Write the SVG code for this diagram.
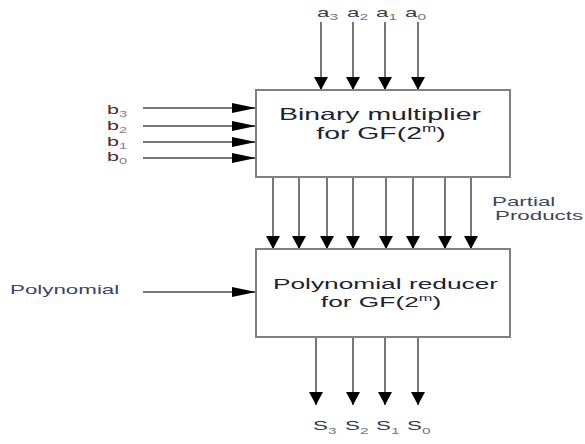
<svg xmlns="http://www.w3.org/2000/svg" width="585" height="444" viewBox="0 0 585 444">
<style>
text{font-family:"Liberation Sans",Arial,sans-serif;}
.box{fill:#fff;stroke:#808080;stroke-width:2;}
.title{fill:#1c2333;}
.wire{stroke:#4a4a4a;stroke-width:1.5;fill:none;}
.down{marker-end:url(#ahDown);}
.right{marker-end:url(#ahRight);}
.lbl{font-size:13px;fill:#3a3a44;}
.sub{font-size:9px;fill:#777;}
.blab{font-size:12.5px;fill:#5a2434;}
.bsub{font-size:8.5px;fill:#8a7d9a;}
.note{font-size:13px;fill:#3b4566;}
</style>
<defs>
<marker id="ahDown" markerUnits="userSpaceOnUse" viewBox="0 -7 13 14" markerWidth="13" markerHeight="14" refX="13" refY="0" orient="auto">
<path d="M0,-7 L13,0 L0,7 z" fill="#000"/>
</marker>
<marker id="ahRight" markerUnits="userSpaceOnUse" viewBox="0 -5 24 10" markerWidth="24" markerHeight="10" refX="24" refY="0" orient="auto">
<path d="M0,-5 L24,0 L0,5 z" fill="#000"/>
</marker>
</defs>

<g id="connectors">
<line class="wire down" x1="321" y1="22" x2="321" y2="90"/>
<line class="wire down" x1="353" y1="22" x2="353" y2="90"/>
<line class="wire down" x1="385" y1="22" x2="385" y2="90"/>
<line class="wire down" x1="418" y1="22" x2="418" y2="90"/>
<line class="wire right" x1="143" y1="108" x2="256" y2="108"/>
<line class="wire right" x1="143" y1="126" x2="256" y2="126"/>
<line class="wire right" x1="143" y1="142" x2="256" y2="142"/>
<line class="wire right" x1="143" y1="158" x2="256" y2="158"/>
<line class="wire down" x1="273" y1="177" x2="273" y2="249"/>
<line class="wire down" x1="299" y1="177" x2="299" y2="249"/>
<line class="wire down" x1="327" y1="177" x2="327" y2="249"/>
<line class="wire down" x1="353" y1="177" x2="353" y2="249"/>
<line class="wire down" x1="386" y1="177" x2="386" y2="249"/>
<line class="wire down" x1="413" y1="177" x2="413" y2="249"/>
<line class="wire down" x1="445" y1="177" x2="445" y2="249"/>
<line class="wire down" x1="471" y1="177" x2="471" y2="249"/>
<line class="wire right" x1="143" y1="292" x2="256" y2="292"/>
<line class="wire down" x1="316" y1="337" x2="316" y2="405"/>
<line class="wire down" x1="353" y1="337" x2="353" y2="405"/>
<line class="wire down" x1="385" y1="337" x2="385" y2="405"/>
<line class="wire down" x1="418" y1="337" x2="418" y2="405"/>
</g>

<g id="multiplier">
<rect class="box" x="256" y="90" width="254" height="87"/>
<text class="title" font-size="16.5" text-anchor="middle" transform="translate(380,120) scale(1.72,1)">Binary multiplier</text>
<text class="title" font-size="16.5" text-anchor="middle" transform="translate(381,138.5) scale(1.72,1)">for GF(2<tspan font-size="10" dy="-7">m</tspan><tspan dy="7">)</tspan></text>
</g>

<g id="reducer">
<rect class="box" x="256" y="249" width="254" height="88"/>
<text class="title" font-size="15.3" text-anchor="middle" transform="translate(385.5,289) scale(1.72,1)">Polynomial reducer</text>
<text class="title" font-size="15.3" text-anchor="middle" transform="translate(381,307) scale(1.72,1)">for GF(2<tspan font-size="9.5" dy="-6.5">m</tspan><tspan dy="6.5">)</tspan></text>
</g>

<g id="inputs-a">
<text class="lbl" transform="translate(317,17) scale(1.72,1)">a<tspan class="sub" dy="3">3</tspan></text>
<text class="lbl" transform="translate(347,17) scale(1.72,1)">a<tspan class="sub" dy="3">2</tspan></text>
<text class="lbl" transform="translate(376,17) scale(1.72,1)">a<tspan class="sub" dy="3">1</tspan></text>
<text class="lbl" transform="translate(405,17) scale(1.72,1)">a<tspan class="sub" dy="3">0</tspan></text>
</g>

<g id="inputs-b">
<text class="blab" transform="translate(107,114) scale(1.72,1)">b<tspan class="bsub" dy="3">3</tspan></text>
<text class="blab" transform="translate(107,130) scale(1.72,1)">b<tspan class="bsub" dy="3">2</tspan></text>
<text class="blab" transform="translate(107,146) scale(1.72,1)">b<tspan class="bsub" dy="3">1</tspan></text>
<text class="blab" transform="translate(107,161) scale(1.72,1)">b<tspan class="bsub" dy="3">0</tspan></text>
</g>

<g id="partial-products-label">
<text class="note" transform="translate(492,206) scale(1.72,1)">Partial</text>
<text class="note" transform="translate(495,220) scale(1.72,1)">Products</text>
</g>

<g id="polynomial-label">
<text class="note" transform="translate(10,294) scale(1.72,1)">Polynomial</text>
</g>

<g id="outputs-s">
<text class="lbl" transform="translate(313,430) scale(1.72,1)">S<tspan class="sub" dy="4" font-size="10">3</tspan></text>
<text class="lbl" transform="translate(345,430) scale(1.72,1)">S<tspan class="sub" dy="4" font-size="10">2</tspan></text>
<text class="lbl" transform="translate(376,430) scale(1.72,1)">S<tspan class="sub" dy="4" font-size="10">1</tspan></text>
<text class="lbl" transform="translate(407,430) scale(1.72,1)">S<tspan class="sub" dy="4" font-size="10">0</tspan></text>
</g>
</svg>
